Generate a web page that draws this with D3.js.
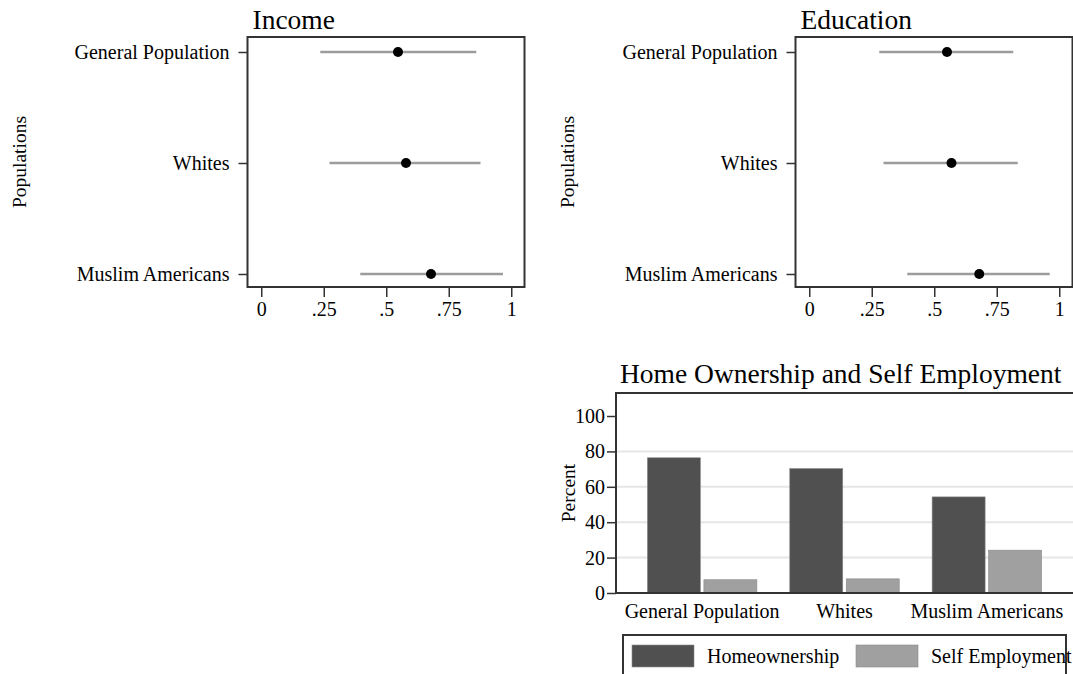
<!DOCTYPE html>
<html>
<head>
  <title>Income, Education, Home Ownership</title>
  <script src="https://d3js.org/d3.v7.min.js"></script>
  <style>
    body { margin: 0; background: #fff; }
    svg, .axis { font-family: "Liberation Serif", "Times New Roman", serif; }
    .axis text { font-size: 20px; fill: #000; }
    .axis line { stroke: #333; stroke-width: 1.5; }
    .frame { fill: none; stroke: #333; stroke-width: 2; }
    .title { font-size: 27.5px; }
    .axis-label { font-size: 19.5px; }
  </style>
</head>
<body>
  <div id="chart"></div>
  <script>
    // Data
    const populations = ["General Population", "Whites", "Muslim Americans"];
    const incomeEst = [0.547, 0.579, 0.679];
    const incomeLo = [0.236, 0.273, 0.396];
    const incomeHi = [0.860, 0.877, 0.967];
    const educEst = [0.551, 0.569, 0.680];
    const educLo = [0.280, 0.297, 0.392];
    const educHi = [0.816, 0.834, 0.962];
    const xTicks = [0, 0.25, 0.5, 0.75, 1];
    const xTickLabels = ["0", ".25", ".5", ".75", "1"];

    const seriesNames = ["Homeownership", "Self Employment"];
    const seriesColors = ["#505050", "#a0a0a0"];
    const homeOwnership = [76.4, 70.3, 54.3];
    const selfEmployment = [7.5, 8.0, 24.2];
    const percentTicks = [0, 20, 40, 60, 80, 100];
    const gridTicks = [20, 40, 60, 80];

    const svg = d3.select("#chart")
      .append("svg")
        .attr("width", 1073)
        .attr("height", 674);

    // Dot plot panels (Income, Education)
    function dotPanel(left, title, est, lo, hi, labelX) {
      const top = 37, bottom = 287, w = 277;
      const x = d3.scaleLinear().domain([-0.055, 1.053]).range([left, left + w]);
      const y = d3.scalePoint().domain(populations).range([52, 274]);
      const rows = populations.map((p, i) => ({p, est: est[i], lo: lo[i], hi: hi[i]}));

      svg.append("rect")
        .attr("class", "frame")
        .attr("x", left).attr("y", top)
        .attr("width", w).attr("height", bottom - top);

      svg.append("g")
        .attr("class", "axis")
        .attr("transform", `translate(${left},0)`)
        .call(d3.axisLeft(y).tickSize(9).tickPadding(9))
        .call(g => g.select(".domain").remove());

      svg.append("g")
        .attr("class", "axis")
        .attr("transform", `translate(0,${bottom})`)
        .call(d3.axisBottom(x).tickValues(xTicks).tickFormat((d, i) => xTickLabels[i]).tickSize(10).tickPadding(5))
        .call(g => g.select(".domain").remove());

      svg.append("g").selectAll("line")
        .data(rows)
        .join("line")
          .attr("x1", d => x(d.lo))
          .attr("x2", d => x(d.hi))
          .attr("y1", d => y(d.p))
          .attr("y2", d => y(d.p))
          .attr("stroke", "#9c9c9c")
          .attr("stroke-width", 2.4);

      svg.append("g").selectAll("circle")
        .data(rows)
        .join("circle")
          .attr("cx", d => x(d.est))
          .attr("cy", d => y(d.p))
          .attr("r", 5)
          .attr("fill", "#000");

      svg.append("text")
        .attr("class", "title")
        .attr("x", left + 5)
        .attr("y", 29)
        .text(title);

      svg.append("text")
        .attr("class", "axis-label")
        .attr("transform", `translate(${labelX},${(top + bottom) / 2}) rotate(-90)`)
        .attr("text-anchor", "middle")
        .attr("dy", "0.35em")
        .text("Populations");
    }

    dotPanel(247.5, "Income", incomeEst, incomeLo, incomeHi, 19);
    dotPanel(795.5, "Education", educEst, educLo, educHi, 567);

    // Bar chart panel
    const bLeft = 616, bRight = 1073, bTop = 393, bBottom = 593;
    const yb = d3.scaleLinear().domain([0, 113]).range([bBottom, bTop]);
    const x0 = d3.scaleBand().domain(populations).range([bLeft, bRight])
      .paddingInner(0).paddingOuter(0.105);
    const x1 = d3.scaleBand().domain(seriesNames).range([0, x0.bandwidth()])
      .paddingInner(0.062).paddingOuter(0.291);
    const color = d3.scaleOrdinal().domain(seriesNames).range(seriesColors);

    svg.append("g").selectAll("line")
      .data(gridTicks)
      .join("line")
        .attr("x1", bLeft).attr("x2", bRight)
        .attr("y1", d => yb(d)).attr("y2", d => yb(d))
        .attr("stroke", "#e6e6e6")
        .attr("stroke-width", 2);

    const barRows = populations.map((p, i) => ({p, values: [homeOwnership[i], selfEmployment[i]]}));
    svg.append("g").selectAll("g")
      .data(barRows)
      .join("g")
        .attr("transform", d => `translate(${x0(d.p)},0)`)
      .selectAll("rect")
      .data(d => seriesNames.map((s, j) => ({s, v: d.values[j]})))
      .join("rect")
        .attr("x", d => x1(d.s))
        .attr("y", d => yb(d.v))
        .attr("width", x1.bandwidth())
        .attr("height", d => bBottom - yb(d.v))
        .attr("fill", d => color(d.s))
        .attr("stroke", "#8a8a8a")
        .attr("stroke-width", 0.6);

    // frame: top, left, bottom
    svg.append("path")
      .attr("class", "frame")
      .attr("d", `M${bRight},${bTop}H${bLeft}V${bBottom}H${bRight}`);

    svg.append("g")
      .attr("class", "axis")
      .attr("transform", `translate(${bLeft},0)`)
      .call(d3.axisLeft(yb).tickValues(percentTicks).tickSize(9).tickPadding(2))
      .call(g => g.select(".domain").remove());

    svg.append("g")
      .attr("class", "axis")
      .attr("transform", `translate(0,${bBottom})`)
      .call(d3.axisBottom(x0).tickSize(0).tickPadding(11))
      .call(g => g.select(".domain").remove());

    svg.append("text")
      .attr("class", "title")
      .attr("x", 620)
      .attr("y", 383)
      .text("Home Ownership and Self Employment");

    svg.append("text")
      .attr("class", "axis-label")
      .attr("transform", `translate(568,${(bTop + bBottom) / 2}) rotate(-90)`)
      .attr("text-anchor", "middle")
      .attr("dy", "0.35em")
      .text("Percent");

    // Legend
    svg.append("rect")
      .attr("class", "frame")
      .attr("x", 623).attr("y", 635)
      .attr("width", 443).attr("height", 60);

    const legendX = [632, 856];
    const legend = svg.append("g").selectAll("g")
      .data(seriesNames)
      .join("g")
        .attr("transform", (d, i) => `translate(${legendX[i]},645)`);
    legend.append("rect")
      .attr("width", 62)
      .attr("height", 22)
      .attr("fill", d => color(d))
      .attr("stroke", "#8a8a8a")
      .attr("stroke-width", 0.6);
    legend.append("text")
      .attr("x", 75)
      .attr("y", 18)
      .style("font-size", "20px")
      .text(d => d);
  </script>
</body>
</html>
